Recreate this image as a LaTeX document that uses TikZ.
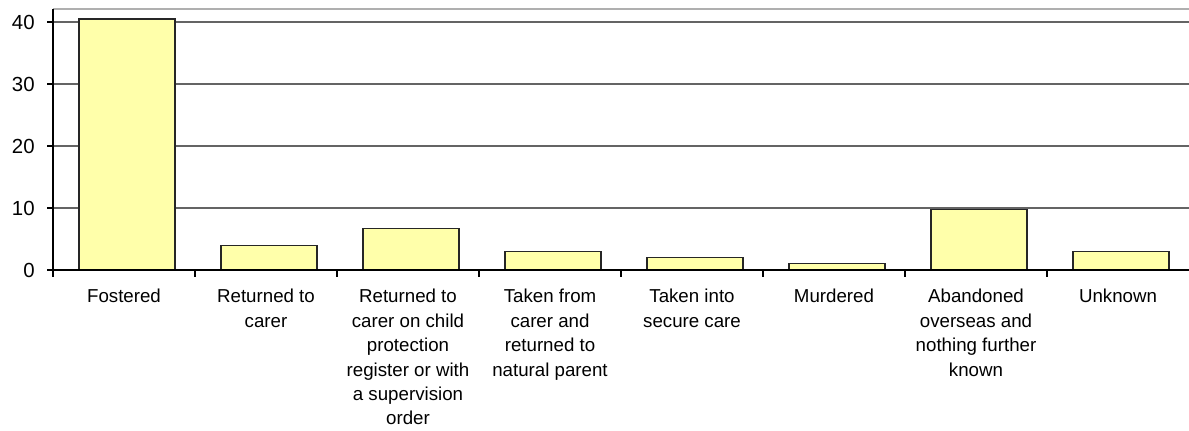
\documentclass[tikz,border=0pt]{standalone}
\usepackage{fontspec}
\setmainfont{Liberation Sans}
\usepackage{tikz}

\definecolor{barfill}{RGB}{255,255,170}
\definecolor{gridgray}{RGB}{100,100,100}
\definecolor{framegray}{RGB}{175,175,175}

\begin{document}
\begin{tikzpicture}[x=71pt, y=3.1pt, font=\fontsize{9.35pt}{12.2pt}\selectfont,
		bar/.style={draw=black!85, fill=barfill, line width=0.6pt},
		catlabel/.style={anchor=north, align=center, inner sep=0pt},
		vallabel/.style={anchor=east, inner sep=0pt, font=\fontsize{10.2pt}{12pt}\selectfont}]
		% Fix the margins
		\useasboundingbox (-26.5pt,-80pt) rectangle (568pt,135pt);
	
		% Draw the top frame and the gridlines
		\draw[framegray, line width=0.6pt] (0,42.1) -- (8,42.1);
		\draw[gridgray, line width=0.6pt] (0,10) -- (8,10);
		\draw[gridgray, line width=0.6pt] (0,20) -- (8,20);
		\draw[gridgray, line width=0.6pt] (0,30) -- (8,30);
		\draw[gridgray, line width=0.6pt] (0,40) -- (8,40);
	
		% Draw the bars
		\draw[bar] (0.183,0) rectangle (0.859,40.5);
		\draw[bar] (1.183,0) rectangle (1.859,4.0);
		\draw[bar] (2.183,0) rectangle (2.859,6.7);
		\draw[bar] (3.183,0) rectangle (3.859,3.0);
		\draw[bar] (4.183,0) rectangle (4.859,2.0);
		\draw[bar] (5.183,0) rectangle (5.859,1.0);
		\draw[bar] (6.183,0) rectangle (6.859,9.8);
		\draw[bar] (7.183,0) rectangle (7.859,3.0);
	
		% Draw the x and y axes
		\draw[line width=0.7pt] (0,42.1) -- (0,0) -- (8,0);
	
		% Tick marks on both axes
		\foreach \v in {0,10,20,30,40}
			\draw[line width=0.6pt] (0,\v) -- ++(-3.2pt,0);
		\foreach \c in {0,...,7}
			\draw[line width=0.6pt] (\c,0) -- ++(0,-3.5pt);
	
		% Label the y axis
		\node[vallabel] (v0) at ([xshift=-9pt]0,0) {0};
		\node[vallabel] (v10) at ([xshift=-9pt]0,10) {10};
		\node[vallabel] (v20) at ([xshift=-9pt]0,20) {20};
		\node[vallabel] (v30) at ([xshift=-9pt]0,30) {30};
		\node[vallabel] (v40) at ([xshift=-9pt]0,40) {40};
	
		% Label the categories
		\node[catlabel] (fostered) at ([yshift=-9.5pt]0.5,0) {Fostered};
		\node[catlabel] (returned) at ([yshift=-9.5pt]1.5,0) {Returned to\\carer};
		\node[catlabel] (register) at ([yshift=-9.5pt]2.5,0) {Returned to\\carer on child\\protection\\register or with\\a supervision\\order};
		\node[catlabel] (parent) at ([yshift=-9.5pt]3.5,0) {Taken from\\carer and\\returned to\\natural parent};
		\node[catlabel] (secure) at ([yshift=-9.5pt]4.5,0) {Taken into\\secure care};
		\node[catlabel] (murdered) at ([yshift=-9.5pt]5.5,0) {Murdered};
		\node[catlabel] (overseas) at ([yshift=-9.5pt]6.5,0) {Abandoned\\overseas and\\nothing further\\known};
		\node[catlabel] (unknown) at ([yshift=-9.5pt]7.5,0) {Unknown};
	
	\end{tikzpicture}
\end{document}
